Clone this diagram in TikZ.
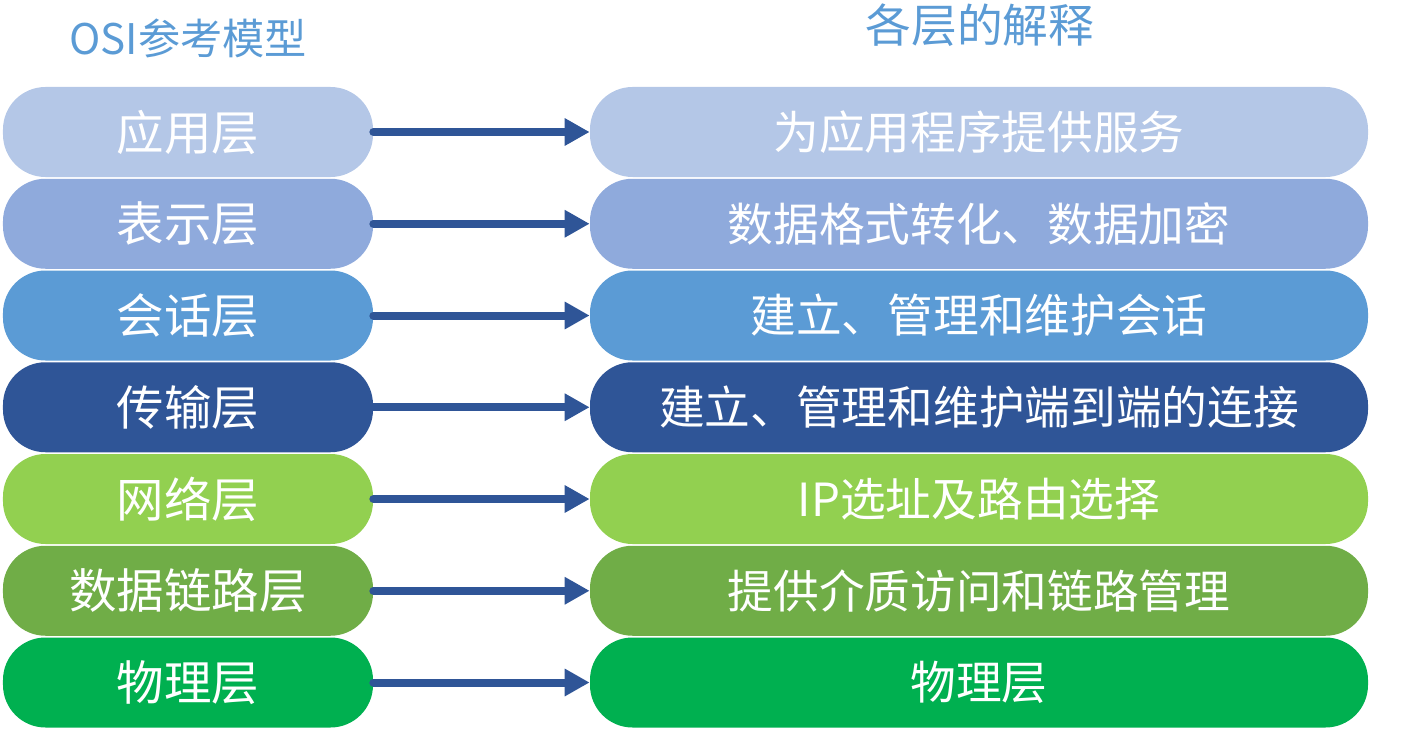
\documentclass[tikz,border=0pt]{standalone}
\usepackage{fontspec}
\setmainfont{Noto Sans CJK SC}
\usetikzlibrary{arrows.meta,positioning}
\definecolor{appC}{HTML}{B4C7E7}
\definecolor{preC}{HTML}{8FAADC}
\definecolor{sesC}{HTML}{5B9BD5}
\definecolor{traC}{HTML}{2F5597}
\definecolor{netC}{HTML}{92D050}
\definecolor{linkC}{HTML}{70AD47}
\definecolor{phyC}{HTML}{00B050}
\definecolor{headC}{HTML}{5B9BD5}
\begin{document}
\begin{tikzpicture}[
  node distance=1.835cm,
  layer/.style={rounded corners=0.85cm, minimum width=7.4cm, minimum height=1.8cm, align=center,
    text=white, font=\fontsize{27}{32}\selectfont, inner sep=0pt},
  expl/.style={layer, minimum width=15.56cm, font=\fontsize{26}{31}\selectfont},
  head/.style={font=\fontsize{24}{28}\selectfont, text=headC},
  arr/.style={-{Triangle[length=0.5cm,width=0.52cm]}, line width=0.16cm, line cap=round, draw=traC}
]
\useasboundingbox (0,0) rectangle (28.34,-14.58);

% left column
\node[layer, fill=appC] (app) at (3.76,-2.64) {应用层};
\node[layer, fill=preC] (pre) [below of=app] {表示层};
\node[layer, fill=sesC] (ses) [below of=pre] {会话层};
\node[layer, fill=traC] (tra) [below of=ses] {传输层};
\node[layer, fill=netC] (net) [below of=tra] {网络层};
\node[layer, fill=linkC] (lnk) [below of=net] {数据链路层};
\node[layer, fill=phyC] (phy) [below of=lnk] {物理层};

% right column
\node[expl, fill=appC] (appx) [right of=app, node distance=15.82cm] {为应用程序提供服务};
\node[expl, fill=preC] (prex) [right of=pre, node distance=15.82cm] {数据格式转化、数据加密};
\node[expl, fill=sesC] (sesx) [right of=ses, node distance=15.82cm] {建立、管理和维护会话};
\node[expl, fill=traC] (trax) [right of=tra, node distance=15.82cm] {建立、管理和维护端到端的连接};
\node[expl, fill=netC] (netx) [right of=net, node distance=15.82cm] {IP选址及路由选择};
\node[expl, fill=linkC] (lnkx) [right of=lnk, node distance=15.82cm] {提供介质访问和链路管理};
\node[expl, fill=phyC] (phyx) [right of=phy, node distance=15.82cm] {物理层};

\node[head] (osi) at (3.76,-0.76) {OSI参考模型};
\node[head, font=\fontsize{26}{30}\selectfont] (why) at (19.6,-0.5) {各层的解释};

\draw[arr] (app) -- (appx);
\draw[arr] (pre) -- (prex);
\draw[arr] (ses) -- (sesx);
\draw[arr] (tra) -- (trax);
\draw[arr] (net) -- (netx);
\draw[arr] (lnk) -- (lnkx);
\draw[arr] (phy) -- (phyx);
\end{tikzpicture}
\end{document}
